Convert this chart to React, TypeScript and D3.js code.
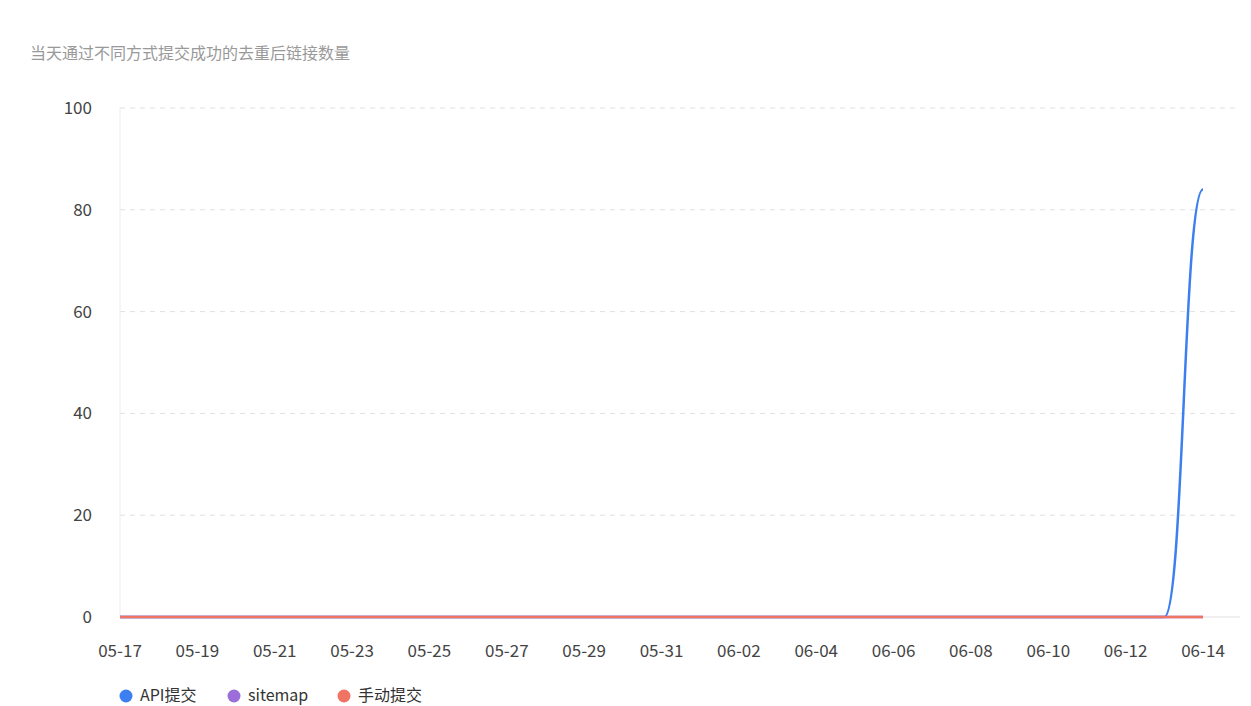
import { useEffect, useRef } from 'react'
import * as d3 from 'd3'

const dates = [
  '05-17', '05-18', '05-19', '05-20', '05-21', '05-22', '05-23', '05-24', '05-25', '05-26',
  '05-27', '05-28', '05-29', '05-30', '05-31', '06-01', '06-02', '06-03', '06-04', '06-05',
  '06-06', '06-07', '06-08', '06-09', '06-10', '06-11', '06-12', '06-13', '06-14',
]
const apiValues = [0, 0, 0, 0, 0, 0, 0, 0, 0, 0, 0, 0, 0, 0, 0, 0, 0, 0, 0, 0, 0, 0, 0, 0, 0, 0, 0, 0, 84]
const sitemapValues = [0, 0, 0, 0, 0, 0, 0, 0, 0, 0, 0, 0, 0, 0, 0, 0, 0, 0, 0, 0, 0, 0, 0, 0, 0, 0, 0, 0, 0]
const manualValues = [0, 0, 0, 0, 0, 0, 0, 0, 0, 0, 0, 0, 0, 0, 0, 0, 0, 0, 0, 0, 0, 0, 0, 0, 0, 0, 0, 0, 0]
const yTicks = [0, 20, 40, 60, 80, 100]

const series = [
  { name: 'API提交', values: apiValues, color: '#3d7ff0' },
  { name: 'sitemap', values: sitemapValues, color: '#9a6fdc' },
  { name: '手动提交', values: manualValues, color: '#f07463' },
]

const FONT = '"Noto Sans CJK SC", "Noto Sans", sans-serif'

export default function App() {
  const svgRef = useRef<SVGSVGElement>(null)

  useEffect(() => {
    if (!svgRef.current) return
    const svg = d3.select(svgRef.current)
    svg.selectAll('*').remove()

    const width = 1251
    const height = 706
    const left = 120
    const lastX = 1203
    const right = 1240
    const top = 108
    const bottom = 617

    svg.attr('width', width).attr('height', height)

    // title
    svg.append('text')
      .attr('x', 30)
      .attr('y', 59)
      .attr('font-size', 16)
      .attr('fill', '#999')
      .attr('font-family', FONT)
      .text('当天通过不同方式提交成功的去重后链接数量')

    const xScale = d3.scalePoint<string>().domain(dates).range([left, lastX])
    const yScale = d3.scaleLinear().domain([0, 100]).range([bottom, top])

    // grid lines
    svg.append('g')
      .selectAll('line')
      .data(yTicks.filter(t => t > 0))
      .join('line')
      .attr('x1', left)
      .attr('x2', right)
      .attr('y1', d => yScale(d))
      .attr('y2', d => yScale(d))
      .attr('stroke', '#e0e0e0')
      .attr('stroke-dasharray', '5,5')

    // y axis line
    svg.append('line')
      .attr('x1', left).attr('x2', left)
      .attr('y1', top).attr('y2', bottom)
      .attr('stroke', '#ececec')

    // x axis line
    svg.append('line')
      .attr('x1', left).attr('x2', right)
      .attr('y1', bottom).attr('y2', bottom)
      .attr('stroke', '#e0e0e0')

    // y tick labels
    svg.append('g')
      .selectAll('text')
      .data(yTicks)
      .join('text')
      .attr('x', 92)
      .attr('y', d => yScale(d))
      .attr('dy', '0.35em')
      .attr('text-anchor', 'end')
      .attr('font-size', 17)
      .attr('fill', '#444')
      .attr('font-family', FONT)
      .text(d => String(d))

    // x tick labels (every other day)
    svg.append('g')
      .selectAll('text')
      .data(dates.filter((_, i) => i % 2 === 0))
      .join('text')
      .attr('x', d => xScale(d) || 0)
      .attr('y', 651)
      .attr('dy', '0.35em')
      .attr('text-anchor', 'middle')
      .attr('font-size', 17)
      .attr('fill', '#444')
      .attr('font-family', FONT)
      .text(d => d)

    // lines
    const line = d3.line<number>()
      .x((_, i) => xScale(dates[i]) || 0)
      .y(d => yScale(d))
      .curve(d3.curveBumpX)

    series.forEach(s => {
      svg.append('path')
        .datum(s.values)
        .attr('d', line)
        .attr('fill', 'none')
        .attr('stroke', s.color)
        .attr('stroke-width', 2.5)
        .attr('stroke-linejoin', 'round')
    })

    // legend
    const legendX = [126, 234, 344]
    const legend = svg.append('g')
    series.forEach((s, i) => {
      legend.append('circle')
        .attr('cx', legendX[i])
        .attr('cy', 696)
        .attr('r', 6.5)
        .attr('fill', s.color)
      legend.append('text')
        .attr('x', legendX[i] + 14)
        .attr('y', 696)
        .attr('dy', '0.33em')
        .attr('font-size', 16)
        .attr('fill', '#333')
        .attr('font-family', FONT)
        .text(s.name)
    })
  }, [])

  return (
    <svg
      ref={svgRef}
      style={{ position: 'absolute', left: 0, top: 0, background: '#fff' }}
    />
  )
}
